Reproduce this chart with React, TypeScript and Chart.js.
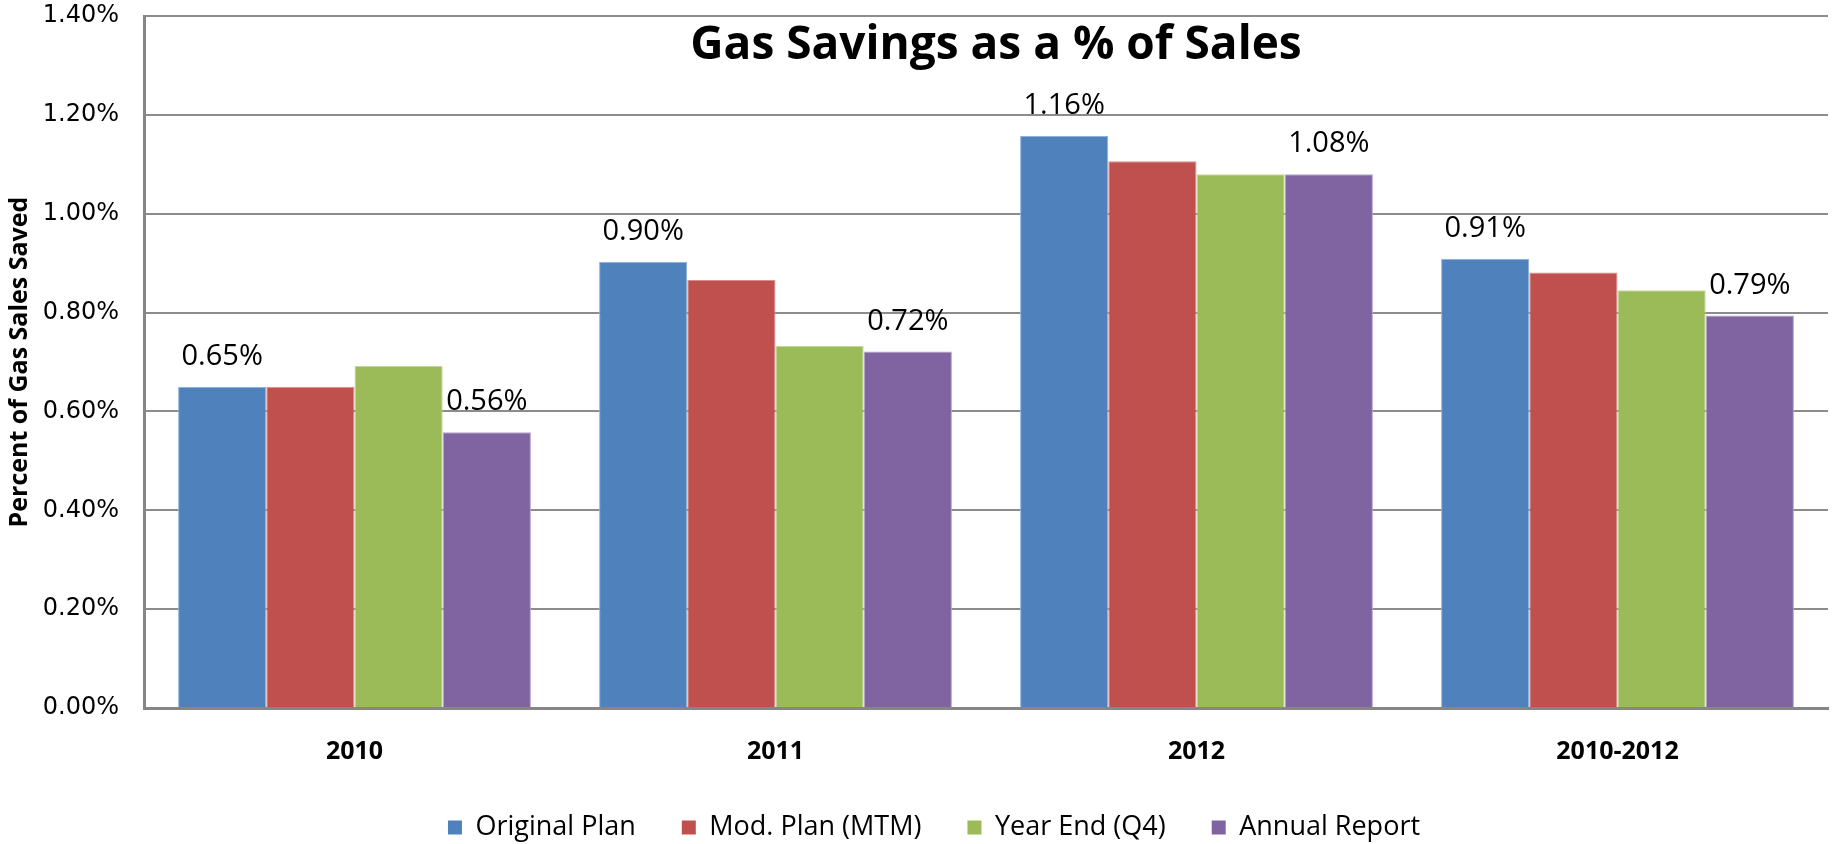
import React, { useEffect, useRef } from "react";
import { Chart, registerables } from "chart.js";

Chart.register(...registerables);

const categories = ["2010", "2011", "2012", "2010-2012"];
const seriesNames = ["Original Plan", "Mod. Plan (MTM)", "Year End (Q4)", "Annual Report"];
const originalPlan = [0.65, 0.903, 1.157, 0.909];
const modPlan = [0.65, 0.866, 1.106, 0.881];
const yearEnd = [0.692, 0.733, 1.08, 0.845];
const annualReport = [0.558, 0.721, 1.08, 0.794];
const seriesColors = ["#4F81BD", "#C0504D", "#9BBB59", "#8064A2"];
const seriesEdgeColors = ["#8FB0DA", "#DA8E8C", "#C3D69B", "#B3A2C7"];
const labeledSeries = [0, 3];
const titleText = "Gas Savings as a % of Sales";
const yAxisTitle = "Percent of Gas Sales Saved";
const yMin = 0;
const yMax = 1.4;
const yStep = 0.2;

const titlePlugin = {
  id: "customTitle",
  afterDraw(chart: any) {
    const ctx = chart.ctx;
    const area = chart.chartArea;
    ctx.save();
    ctx.font = "bold 46px 'Open Sans'";
    ctx.fillStyle = "#000";
    ctx.textAlign = "center";
    ctx.textBaseline = "middle";
    ctx.fillText(titleText, (area.left + area.right) / 2 + 10, area.top + 30);
    ctx.restore();
  },
};

const legendShiftPlugin = {
  id: "legendShift",
  afterLayout(chart: any) {
    if (chart.legend) {
      chart.legend.left += 20;
      chart.legend.right += 20;
    }
  },
};

const valueLabelPlugin = {
  id: "valueLabels",
  afterDatasetsDraw(chart: any) {
    const ctx = chart.ctx;
    ctx.save();
    ctx.font = "29px 'Open Sans'";
    ctx.fillStyle = "#000";
    ctx.textAlign = "center";
    ctx.textBaseline = "alphabetic";
    labeledSeries.forEach((di) => {
      const meta = chart.getDatasetMeta(di);
      meta.data.forEach((bar: any, i: number) => {
        const v = chart.data.datasets[di].data[i] as number;
        ctx.fillText(v.toFixed(2) + "%", bar.x, bar.y - 22);
      });
    });
    ctx.restore();
  },
};

export default function App() {
  const ref = useRef<HTMLCanvasElement | null>(null);
  useEffect(() => {
    if (!ref.current) return;
    const allSeries = [originalPlan, modPlan, yearEnd, annualReport];
    const chart = new Chart(ref.current, {
      type: "bar",
      data: {
        labels: categories,
        datasets: allSeries.map((d, i) => ({
          label: seriesNames[i],
          data: d,
          backgroundColor: seriesColors[i],
          borderColor: seriesEdgeColors[i],
          borderWidth: 1,
          categoryPercentage: 0.838,
          barPercentage: 1.0,
        })),
      },
      options: {
        animation: false,
        responsive: true,
        maintainAspectRatio: false,
        layout: { padding: { left: 0, right: 6, top: 16, bottom: -7 } },
        plugins: {
          legend: {
            position: "bottom",
            labels: {
              boxWidth: 14,
              boxHeight: 14,
              padding: 46,
              color: "#000",
              font: { family: "'Open Sans'", size: 27 },
              generateLabels: (chart: any) =>
                chart.data.datasets.map((ds: any, i: number) => ({
                  text: ds.label,
                  fillStyle: seriesColors[i],
                  strokeStyle: seriesColors[i],
                  lineWidth: 0,
                  hidden: false,
                  datasetIndex: i,
                  fontColor: "#000",
                })),
            },
          },
          title: { display: false },
          tooltip: { enabled: false },
        },
        scales: {
          x: {
            grid: { display: false, drawTicks: false },
            border: { display: true, color: "#868686", width: 3 },
            ticks: {
              color: "#000",
              padding: 29,
              font: { family: "'Open Sans'", size: 25, weight: "bold" },
            },
            afterFit(scale: any) {
              scale.height = 60;
            },
          },
          y: {
            min: yMin,
            max: yMax,
            ticks: {
              stepSize: yStep,
              color: "#000",
              padding: 25,
              font: { family: "'DejaVu Sans'", size: 24 },
              callback: (v: any) => Number(v).toFixed(2) + "%",
            },
            grid: { color: "#8C8C8C", lineWidth: 2, drawTicks: false },
            border: { display: true, color: "#868686", width: 3 },
            title: {
              display: true,
              text: yAxisTitle,
              color: "#000",
              padding: { top: 5, bottom: 0 },
              font: { family: "'Open Sans'", size: 25, weight: "bold" },
            },
            afterFit(scale: any) {
              scale.width = 144;
              scale.paddingTop = 0;
              scale.paddingBottom = 0;
            },
          },
        },
      },
      plugins: [titlePlugin, valueLabelPlugin, legendShiftPlugin],
    });
    return () => chart.destroy();
  }, []);
  return (
    <div style={{ position: "absolute", left: 0, top: 0, width: 1834, height: 844, background: "#fff", overflow: "hidden" }}>
      <canvas ref={ref} />
    </div>
  );
}
